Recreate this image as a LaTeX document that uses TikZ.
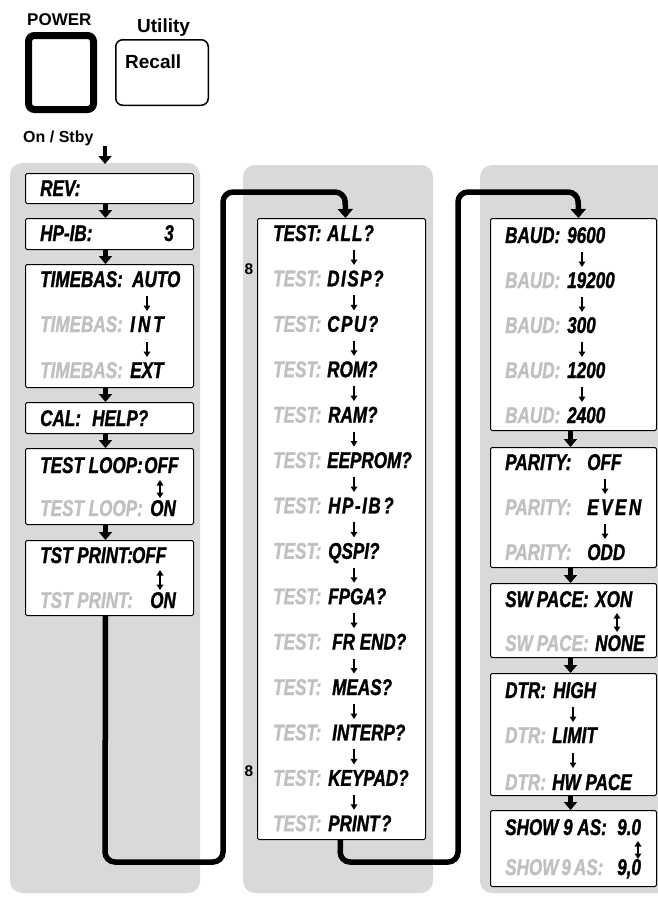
\documentclass[tikz,border=0pt]{standalone}
\usepackage{fontspec}
\setmainfont{Liberation Sans}
\newfontfamily\cnd[FakeStretch=0.75,FakeBold=1.2]{Liberation Sans}
\usetikzlibrary{arrows.meta}
\definecolor{panel}{RGB}{217,217,217}
\definecolor{tg}{RGB}{192,192,192}
\begin{document}
\begin{tikzpicture}[x=1pt,y=-1pt,
  box/.style={draw=black, line width=1pt, fill=white, rounded corners=1.5pt, anchor=north west, inner sep=0pt},
  txt/.style={font=\cnd\bfseries\itshape\fontsize{22.8}{24}\selectfont, inner sep=0pt, anchor=base west},
  gtxt/.style={txt, text=tg},
  lab/.style={font=\bfseries\fontsize{17}{20}\selectfont, inner sep=0pt, anchor=base west},
  flow/.style={line width=4.5pt, -{Triangle[width=13pt,length=8pt]}},
  conn/.style={line width=5.5pt, rounded corners=10pt, -{Triangle[width=15pt,length=9pt]}},
  sarr/.style={line width=1.6pt, -{Triangle[width=6.5pt,length=5.5pt]}},
  darr/.style={line width=1.6pt, {Triangle[width=6.5pt,length=5.5pt]}-{Triangle[width=6.5pt,length=5.5pt]}},
]
\useasboundingbox (0,0) rectangle (658,897);
\begin{scope}
\clip (0,0) rectangle (658,897);
\fill[panel, rounded corners=12pt] (10,163) rectangle (200,893);
\fill[panel, rounded corners=12pt] (243,165) rectangle (433,893);
\fill[panel, rounded corners=12pt] (480,165) rectangle (700,893);
\end{scope}

% top buttons
\node[lab] (powerlab) at (27,25) {POWER};
\node[draw, line width=7pt, rounded corners=6pt, minimum width=65pt, minimum height=74pt, inner sep=0pt] (power) at (61,72.5) {};
\node[lab, font=\bfseries\fontsize{19}{22}\selectfont] (utillab) at (137,32) {Utility};
\node[draw, line width=1.5pt, rounded corners=7pt, minimum width=92.5pt, minimum height=65.5pt, inner sep=0pt] (recall) at (162,72.5) {};
\node[lab, font=\bfseries\fontsize{19}{22}\selectfont] (recalllab) at (125,68) {Recall};
\node[lab, font=\bfseries\fontsize{16}{19}\selectfont] (onstby) at (23,142) {On / Stby};
\coordinate (stbystart) at (105,146);
\coordinate (stbyend) at (105,164);
\draw[flow] (stbystart) -- (stbyend);

% left column boxes
\node[box, minimum width=168pt, minimum height=30pt] (rev) at (25,173) {};
\node[box, minimum width=168pt, minimum height=31pt] (hpib) at (25,218) {};
\node[box, minimum width=168pt, minimum height=123pt] (timebas) at (25,264) {};
\node[box, minimum width=168pt, minimum height=31pt] (cal) at (25,402) {};
\node[box, minimum width=168pt, minimum height=76pt] (tloop) at (25,448) {};
\node[box, minimum width=168pt, minimum height=75pt] (tprint) at (25,540) {};

\draw[flow] ([xshift=-4pt]rev.south) -- ([xshift=-4pt]hpib.north);
\draw[flow] ([xshift=-4pt]hpib.south) -- ([xshift=-4pt]timebas.north);
\draw[flow] ([xshift=-4pt]timebas.south) -- ([xshift=-4pt]cal.north);
\draw[flow] ([xshift=-4pt]cal.south) -- ([xshift=-4pt]tloop.north);
\draw[flow] ([xshift=-4pt]tloop.south) -- ([xshift=-4pt]tprint.north);

\node[txt] (revt) at (40,196) {REV:};
\node[txt] (hpibt) at (40,241) {HP-IB:};
\node[txt, anchor=base east] (hpibv) at (174,241) {3};
\node[txt] (tb1) at (40,287) {TIMEBAS:};
\node[txt] (tb1v) at (132,287) {AUTO};
\node[gtxt] (tb2) at (40,332) {TIMEBAS:};
\node[txt] (tb2v) at (130,332) {I\kern3pt N\kern3pt T};
\node[gtxt] (tb3) at (40,378) {TIMEBAS:};
\node[txt] (tb3v) at (130,378) {EXT};
\coordinate (tba1) at (147,296); \coordinate (tbb1) at (147,311);
\coordinate (tba2) at (147,342); \coordinate (tbb2) at (147,357);
\draw[sarr] (tba1) -- (tbb1);
\draw[sarr] (tba2) -- (tbb2);
\node[txt] (calt) at (40,426) {CAL:};
\node[txt] (calv) at (92,426) {HELP?};
\node[txt] (tl1) at (40,473) {TEST LOOP:};
\node[txt] (tl1v) at (144,473) {OFF};
\node[gtxt] (tl2) at (40,516) {TEST LOOP:};
\node[txt] (tl2v) at (150,516) {ON};
\coordinate (tla) at (160,480); \coordinate (tlb) at (160,498);
\draw[darr] (tla) -- (tlb);
\node[txt] (tp1) at (40,563) {TST PRINT:\kern-1pt OFF};
\node[gtxt] (tp2) at (40,608) {TST PRINT:};
\node[txt] (tp2v) at (150,608) {ON};
\coordinate (tpa) at (160,570); \coordinate (tpb) at (160,590);
\draw[darr] (tpa) -- (tpb);

% middle column
\node[box, minimum width=168pt, minimum height=621pt] (mid) at (257,218) {};
\foreach \v/\vx [count=\i from 0] in {{A\kern1pt L\kern1pt L\kern1pt ?}/327, {D\kern1.5pt I\kern1.5pt S\kern1.5pt P\kern1.5pt ?}/327, {C\kern1.5pt P\kern1.5pt U\kern1.5pt ?}/327, ROM?/327, RAM?/328, EEPROM?/327, {H\kern1.5pt P\kern1.5pt -\kern1.5pt I\kern1.5pt B\kern2.5pt ?}/328, QSPI?/328, FPGA?/328, FR END?/332, MEAS?/332, INTERP?/332, KEYPAD?/328, {PRINT\kern1.5pt ?}/328} {
  \pgfmathsetmacro{\by}{241+45.4*\i}
  \ifnum\i=0
    \node[txt] (ml\i) at (273,\by) {TEST:};
  \else
    \node[gtxt] (ml\i) at (273,\by) {TEST:};
  \fi
  \node[txt] (mv\i) at (\vx,\by) {\v};
}
\foreach \i in {0,...,12} {
  \pgfmathsetmacro{\ay}{241+45.4*\i+9}
  \pgfmathsetmacro{\bya}{241+45.4*\i+24}
  \coordinate (ma\i) at (354,\ay);
  \coordinate (mb\i) at (354,\bya);
  \draw[sarr] (ma\i) -- (mb\i);
}
\node[font=\bfseries\fontsize{15.5}{18}\selectfont, inner sep=0pt, anchor=base] (eight1) at (249,274) {8};
\node[font=\bfseries\fontsize{15.5}{18}\selectfont, inner sep=0pt, anchor=base] (eight2) at (249,776) {8};

% right column
\node[box, minimum width=166pt, minimum height=212pt] (baud) at (490,218) {};
\node[box, minimum width=166pt, minimum height=120pt] (parity) at (490,447) {};
\node[box, minimum width=166pt, minimum height=74pt] (swpace) at (490,583) {};
\node[box, minimum width=166pt, minimum height=122pt] (dtr) at (490,673) {};
\node[box, minimum width=166pt, minimum height=76pt] (show) at (490,810) {};
\draw[flow] ([xshift=-3pt]baud.south) -- ([xshift=-3pt]parity.north);
\draw[flow] ([xshift=-3pt]parity.south) -- ([xshift=-3pt]swpace.north);
\draw[flow] ([xshift=-3pt]swpace.south) -- ([xshift=-3pt]dtr.north);
\draw[flow] ([xshift=-3pt]dtr.south) -- ([xshift=-3pt]show.north);

\foreach \v [count=\i from 0] in {9600,19200,300,1200,2400} {
  \pgfmathsetmacro{\by}{243+45*\i}
  \ifnum\i=0
    \node[txt] (bl\i) at (505,\by) {BAUD:};
  \else
    \node[gtxt] (bl\i) at (505,\by) {BAUD:};
  \fi
  \node[txt] (bv\i) at (567,\by) {\v};
}
\foreach \i in {0,...,3} {
  \pgfmathsetmacro{\ay}{243+45*\i+9}
  \pgfmathsetmacro{\bya}{243+45*\i+24}
  \coordinate (ba\i) at (582,\ay);
  \coordinate (bb\i) at (582,\bya);
  \draw[sarr] (ba\i) -- (bb\i);
}
\node[txt] (pa1) at (505,470) {PARITY:};
\node[txt] (pa1v) at (587,470) {OFF};
\node[gtxt] (pa2) at (505,515) {PARITY:};
\node[txt] (pa2v) at (587,515) {E\kern2.5pt V\kern2.5pt E\kern2.5pt N};
\node[gtxt] (pa3) at (505,560) {PARITY:};
\node[txt] (pa3v) at (587,560) {ODD};
\coordinate (paa1) at (605,479); \coordinate (pab1) at (605,494);
\coordinate (paa2) at (605,524); \coordinate (pab2) at (605,539);
\draw[sarr] (paa1) -- (pab1);
\draw[sarr] (paa2) -- (pab2);

\node[txt] (sw1) at (505,607) {SW\kern4pt PACE:};
\node[txt] (sw1v) at (595,607) {XON};
\node[gtxt] (sw2) at (505,651) {SW\kern4pt PACE:};
\node[txt] (sw2v) at (595,651) {NONE};
\coordinate (swa) at (617,613); \coordinate (swb) at (617,632);
\draw[darr] (swa) -- (swb);

\node[txt] (dt1) at (505,698) {DTR:};
\node[txt] (dt1v) at (553,698) {HIGH};
\node[gtxt] (dt2) at (505,743) {DTR:};
\node[txt] (dt2v) at (552,743) {LIMIT};
\node[gtxt] (dt3) at (505,790) {DTR:};
\node[txt] (dt3v) at (552,790) {HW PACE};
\coordinate (dta1) at (573,707); \coordinate (dtb1) at (573,722);
\coordinate (dta2) at (573,753); \coordinate (dtb2) at (573,768);
\draw[sarr] (dta1) -- (dtb1);
\draw[sarr] (dta2) -- (dtb2);

\node[txt] (sh1) at (505,835) {SHOW 9 AS:};
\node[txt] (sh1v) at (617,835) {9.0};
\node[gtxt] (sh2) at (505,875) {SHOW\kern3pt 9\kern3pt AS:};
\node[txt] (sh2v) at (617,875) {9,0};
\coordinate (sha) at (638,841); \coordinate (shb) at (638,859);
\draw[darr] (sha) -- (shb);

% connectors
\draw[conn] ([xshift=-4pt]tprint.south) -- (105,862) -- (223,862) -- (223,192) -- (345,192) -- ([xshift=4pt]mid.north);
\draw[conn] ([xshift=-1pt]mid.south) -- (340,862) -- (458,862) -- (458,192) -- (578,192) -- ([xshift=5pt]baud.north);
\end{tikzpicture}
\end{document}
